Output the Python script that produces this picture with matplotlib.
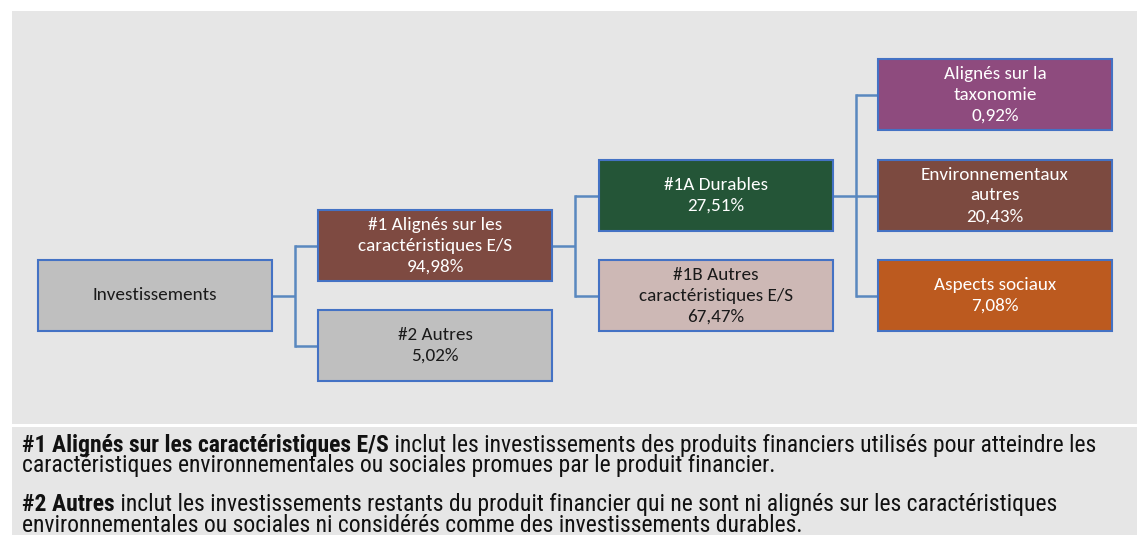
import matplotlib
matplotlib.use("Agg")
import matplotlib.pyplot as plt
from matplotlib import font_manager as fm
from matplotlib.font_manager import FontProperties
from matplotlib.patches import Rectangle

# ---------------- data ----------------
node_labels = [
    "Investissements",
    "#1 Alignés sur les\ncaractéristiques E/S",
    "#2 Autres",
    "#1A Durables",
    "#1B Autres\ncaractéristiques E/S",
    "Alignés sur la\ntaxonomie",
    "Environnementaux\nautres",
    "Aspects sociaux",
]
node_values = [None, 94.98, 5.02, 27.51, 67.47, 0.92, 20.43, 7.08]
node_parents = [None, 0, 0, 1, 1, 3, 3, 3]

footnote_lines = [
    ("#1 Alignés sur les caractéristiques E/S",
     " inclut les investissements des produits financiers utilisés pour atteindre les"),
    ("", "caractéristiques environnementales ou sociales promues par le produit financier."),
    ("#2 Autres",
     " inclut les investissements restants du produit financier qui ne sont ni alignés sur les caractéristiques"),
    ("", "environnementales ou sociales ni considérés comme des investissements durables."),
]

# ---------------- style / layout ----------------
node_fill = ["#bfbfbf", "#7e4a41", "#bfbfbf", "#245537", "#cdb8b5",
             "#8e4b7e", "#7c4a40", "#bc5a1f"]
node_text_color = ["#1a1a1a", "white", "#1a1a1a", "white", "#1a1a1a",
                   "white", "white", "white"]
node_col = [0, 1, 1, 2, 2, 3, 3, 3]
node_top = [260, 210, 310, 160, 260, 59, 160, 260]
col_x = [38, 318, 599, 878]
box_w, box_h = 234, 71
junction_gap = 23

W, H = 1137, 535
PANEL = "#e6e6e6"
BORDER = "#4472c4"
CONNECT = "#5a88bf"


def wnum(w):
    if isinstance(w, (int, float)):
        return w
    return fm.weight_dict.get(w, 400)


def pick_font(cands, bold=False):
    target = 700 if bold else 400
    for name, stretch in cands:
        best = None
        for f in fm.fontManager.ttflist:
            if f.name != name or f.style != "normal":
                continue
            if stretch is not None and f.stretch != stretch:
                continue
            d = abs(wnum(f.weight) - target)
            if best is None or d < best[0]:
                best = (d, f.fname)
        if best is not None and best[0] <= 150:
            return best[1]
    return None


narrow_cands = [("Liberation Sans Narrow", None), ("Roboto Condensed", None),
                ("Open Sans Condensed", None), ("Noto Sans", "condensed"),
                ("DejaVu Sans", "condensed"), ("Liberation Sans", None)]
foot_reg_path = pick_font(narrow_cands, bold=False)
foot_bold_path = pick_font(narrow_cands, bold=True)

box_font_path = pick_font([("Carlito", None), ("Lato", None), ("Open Sans", None)], bold=False)


def fp(path, size, bold=False):
    if path:
        return FontProperties(fname=path, size=size)
    return FontProperties(family="DejaVu Sans", size=size,
                          weight="bold" if bold else "normal")


fig = plt.figure(figsize=(W / 100, H / 100), dpi=100)
ax = fig.add_axes([0, 0, 1, 1])
ax.set_xlim(0, W)
ax.set_ylim(H, 0)
ax.axis("off")

ax.add_patch(Rectangle((12, 11), W - 12, 413, fc=PANEL, ec="none"))
ax.add_patch(Rectangle((12, 427), W - 12, H - 427, fc=PANEL, ec="none"))


def center_y(i):
    return node_top[i] + box_h / 2


# connectors
children = {}
for i, p in enumerate(node_parents):
    if p is not None:
        children.setdefault(p, []).append(i)
for p, kids in children.items():
    px = col_x[node_col[p]] + box_w
    jx = px + junction_gap
    py = center_y(p)
    ax.plot([px, jx], [py, py], color=CONNECT, lw=1.8, solid_capstyle="butt", zorder=2)
    ys = [center_y(k) for k in kids]
    ax.plot([jx, jx], [min(ys), max(ys)], color=CONNECT, lw=1.8,
            solid_capstyle="projecting", zorder=2)
    for k in kids:
        ax.plot([jx, col_x[node_col[k]]], [center_y(k)] * 2, color=CONNECT,
                lw=1.8, solid_capstyle="butt", zorder=2)

# boxes
box_fp = fp(box_font_path, 13.8)
for i, lab in enumerate(node_labels):
    x = col_x[node_col[i]]
    y = node_top[i]
    ax.add_patch(Rectangle((x, y), box_w, box_h, fc=node_fill[i], ec=BORDER,
                           lw=1.5, zorder=3))
    txt = lab
    if node_values[i] is not None:
        txt += "\n" + f"{node_values[i]:.2f}".replace(".", ",") + "%"
    ax.text(x + box_w / 2, y + box_h / 2, txt, ha="center", va="center",
            multialignment="center", color=node_text_color[i],
            fontproperties=box_fp, linespacing=1.38, zorder=4)

# footnote text: fit first line width
fig.canvas.draw()
renderer = fig.canvas.get_renderer()
s0 = 10
tb = ax.text(0, 0, footnote_lines[0][0], fontproperties=fp(foot_bold_path, s0, True))
tr = ax.text(0, 0, footnote_lines[0][1], fontproperties=fp(foot_reg_path, s0))
wsum = tb.get_window_extent(renderer).width + tr.get_window_extent(renderer).width
tb.remove()
tr.remove()
target = 1095 - 22
size = s0 * target / wsum

foot_x = 22
baselines = [452, 472, 511, 532]
f_b = fp(foot_bold_path, size, True)
f_r = fp(foot_reg_path, size)
for (bold, reg), yb in zip(footnote_lines, baselines):
    x = foot_x
    if bold:
        t = ax.text(x, yb, bold, fontproperties=f_b, va="baseline", ha="left",
                    color="#111111")
        x += t.get_window_extent(renderer).width
    ax.text(x, yb, reg, fontproperties=f_r, va="baseline", ha="left", color="#111111")

fig.savefig("out.png", dpi=100)
